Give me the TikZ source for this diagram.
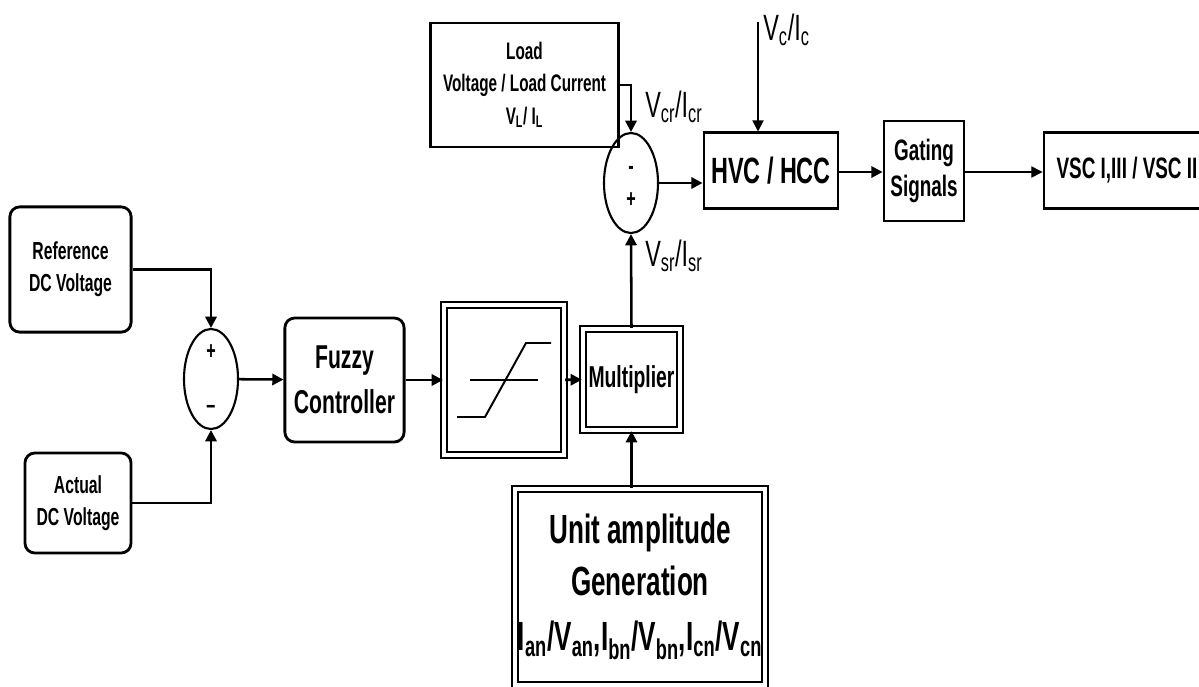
\documentclass[tikz,border=0pt]{standalone}
\usepackage{fontspec}
\setmainfont[FakeStretch=0.64]{Liberation Sans}
\usetikzlibrary{shapes.geometric, arrows.meta, positioning}

\newcommand{\fsz}[2]{\fontsize{#1}{#2}\selectfont}

\begin{document}
\begin{tikzpicture}[
    x=0.025cm, y=-0.025cm,
    block/.style={
        draw,
        line width=2pt,
        align=center,
        inner sep=2pt
    },
    rblock/.style={
        block,
        rounded corners=7pt
    },
    dblock/.style={
        draw,
        line width=1.5pt,
        double,
        double distance=2.5pt,
        align=center,
        inner sep=2pt
    },
    summer/.style={
        draw,
        ellipse,
        line width=1.5pt,
        minimum width=1.35cm,
        minimum height=2.5cm,
        inner sep=0pt
    },
    sign/.style={font=\bfseries\fsz{18}{18}, inner sep=0pt},
    sig/.style={font=\fsz{26}{26}, inner sep=0pt, anchor=base west},
    conn/.style={line width=1.8pt},
    >={Triangle[length=2.8mm,width=2.8mm]}
]
\useasboundingbox (0,0) rectangle (1199,686);

% left part
\node[rblock, minimum width=3.03cm, minimum height=3.13cm, font=\bfseries\fsz{17.5}{23}]
    (refdc) at (70.5,269.5) {Reference\\DC Voltage};
\node[rblock, minimum width=2.65cm, minimum height=2.5cm, font=\bfseries\fsz{17.5}{23}]
    (actdc) at (78,503) {Actual\\DC Voltage};
\node[summer] (sumdc) at (211,379) {};
\node[sign] at (211,352) {+};
\node[sign] at (211,409) {--};

\node[rblock, minimum width=2.98cm, minimum height=3.1cm, font=\bfseries\fsz{23.5}{32}]
    (fuzzy) at (344.5,380) {Fuzzy\\Controller};

% limiter with its curve
\node[dblock, minimum width=3cm, minimum height=3.75cm] (limit) at (504,380) {};
\draw[line width=1.4pt] (470,380) -- (538,380);
\draw[line width=1.4pt] (457,417) -- (485,417) -- (526,343) -- (551,343);

\node[dblock, minimum width=2.43cm, minimum height=2.53cm, inner sep=0pt, font=\bfseries\fsz{21.5}{24}]
    (mult) at (631.5,379.5) {Multiplier};

\node[dblock, minimum width=6.15cm, minimum height=4.9cm, font=\bfseries\fsz{29}{37}]
    (unitamp) at (640,587)
    {Unit amplitude\\Generation\\[2pt]
     I\textsubscript{an}/V\textsubscript{an},I\textsubscript{bn}/V\textsubscript{bn},I\textsubscript{cn}/V\textsubscript{cn}};

% upper part
\node[block, minimum width=4.68cm, minimum height=3.1cm, font=\bfseries\fsz{17}{23}]
    (load) at (524.5,85) {Load\\Voltage / Load Current\\V\textsubscript{L}/ I\textsubscript{L}};
\node[summer] (sumref) at (631,183) {};
\node[sign] at (631,170) {-};
\node[sign] at (631,200) {+};

\node[block, minimum width=3.35cm, minimum height=1.88cm, font=\bfseries\fsz{26}{26}]
    (hvc) at (771,170.5) {HVC / HCC};
\node[block, minimum width=2cm, minimum height=2.5cm, font=\bfseries\fsz{21}{26}]
    (gate) at (924,171) {Gating\\Signals};
\node[block, minimum width=4.15cm, minimum height=1.88cm, font=\bfseries\fsz{21}{21}]
    (vsc) at (1127,170.5) {VSC I,III / VSC II};

\coordinate (vcin) at (758,22);

% signal names
\node[sig] (vcr) at (645,117) {V\textsubscript{cr}/I\textsubscript{cr}};
\node[sig] (vsr) at (645,266) {V\textsubscript{sr}/I\textsubscript{sr}};
\node[sig] (vc) at (763,40) {V\textsubscript{c}/I\textsubscript{c}};

% connections
\draw[conn,->] (refdc.east) -| (sumdc.north);
\draw[conn,->] (actdc.east) -| (sumdc.south);
\draw[conn,->] (sumdc) -- (fuzzy);
\draw[conn,->] (fuzzy) -- (limit);
\draw[conn,->] (limit) -- (mult);
\draw[conn,->] (unitamp.north -| mult) -- (mult.south);
\draw[conn,->] (mult.north) -- (sumref.south);
\draw[conn,->] (load.east) -| (sumref.north);
\draw[conn,->] (sumref.east) -- (sumref.east -| hvc.west);
\draw[line width=1.2pt,->] (vcin) -- (vcin |- hvc.north);
\draw[conn,->] (hvc.east |- 0,172) -- (gate.west |- 0,172);
\draw[line width=0.8pt,->] (gate.east |- 0,172) -- (vsc.west |- 0,172);

\end{tikzpicture}
\end{document}
